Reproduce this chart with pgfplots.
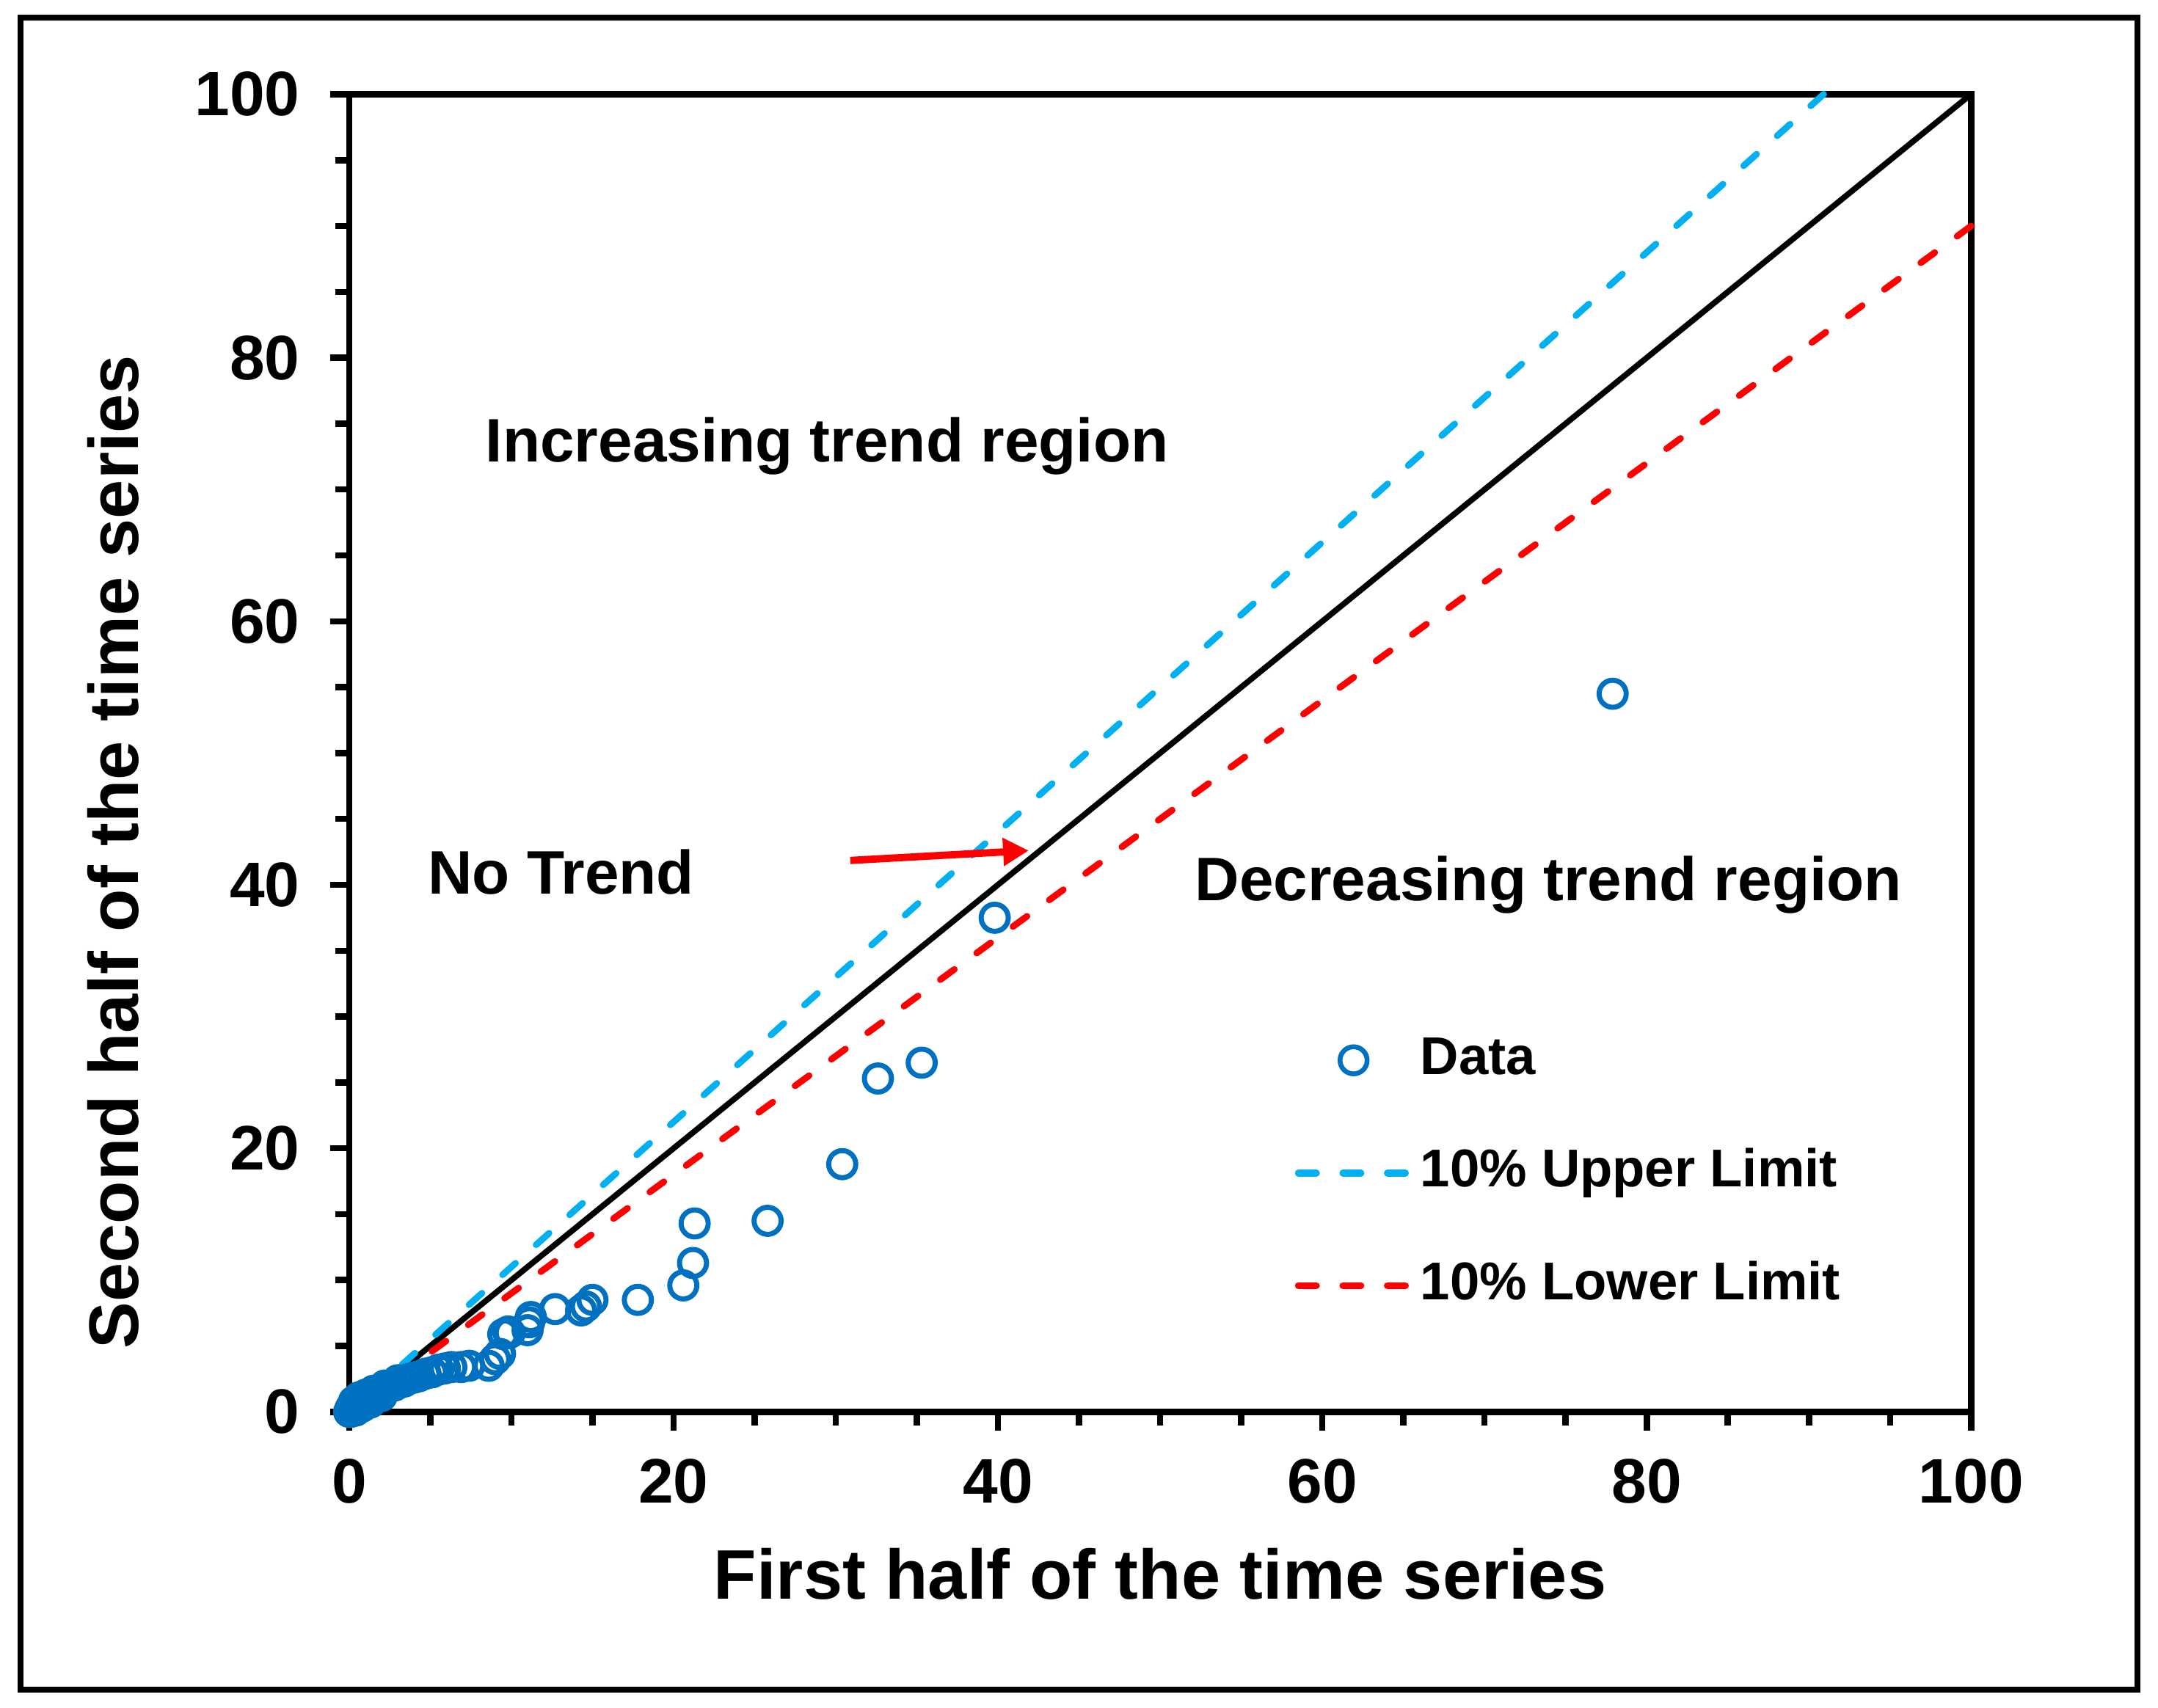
\documentclass[border=0pt]{standalone}
\usepackage{fontspec}
\setmainfont{Liberation Sans}
\usepackage{pgfplots}
\pgfplotsset{compat=1.18}
\usetikzlibrary{arrows.meta}

\definecolor{datablue}{HTML}{0070C0}
\definecolor{limcyan}{HTML}{00B0F0}
\definecolor{limred}{HTML}{FF0000}

\begin{document}
\begin{tikzpicture}[x=1mm,y=1mm]
% page size and outer frame
\path (0,0) rectangle (156.8,124.07);
\draw[line width=1.2pt] (1.5,1.27) rectangle (155.3,122.77);

\begin{axis}[
  at={(25.37mm,21.47mm)}, anchor=south west,
  scale only axis, width=117.85mm, height=95.75mm,
  xmin=0, xmax=100, ymin=0, ymax=100,
  xtick={0,20,...,100}, ytick={0,20,...,100},
  minor xtick={5,10,...,95}, minor ytick={5,10,...,95},
  tick pos=left, tick align=outside,
  major tick length=3.9pt, minor tick length=2.9pt,
  axis line style={line width=1.3pt},
  tick style={black, line width=1.3pt},
  /pgf/number format/assume math mode=true,
  tick label style={font=\bfseries\fontsize{13}{15}\selectfont},
  xticklabel style={yshift=-2.3pt},
  yticklabel style={xshift=-2.8pt},
  xlabel={First half of the time series},
  ylabel={Second half of the time series},
  label style={font=\bfseries\fontsize{14.5}{17}\selectfont},
  xlabel style={at={(axis description cs:0.5,-0.123)}, anchor=center},
  ylabel style={at={(axis description cs:-0.1455,0.425)}, anchor=center},
  clip=false,
  legend image code/.code={\draw[mark repeat=2,mark phase=2,#1] plot coordinates {(0pt,0pt) (11.4pt,0pt) (22.8pt,0pt)};},
  legend cell align=left,
  legend style={draw=none, fill=none, inner sep=0pt,
    at={(axis cs:58.25,29.25)}, anchor=north west,
    row sep=9.7pt, column sep=0pt,
    nodes={inner sep=1.7pt, text height=8pt, text depth=2.2pt},
    font=\bfseries\fontsize{11}{13}\selectfont},
]

% legend entries
\addlegendimage{only marks, mark=o, mark size=2.8pt, datablue, mark options={line width=1pt}}
\addlegendentry{Data}
\addlegendimage{limcyan, line width=1.45pt, line cap=round, dash pattern=on 3.7pt off 5.5pt}
\addlegendentry{10\% Upper Limit}
\addlegendimage{limred, line width=1.45pt, line cap=round, dash pattern=on 3.7pt off 5.5pt}
\addlegendentry{10\% Lower Limit}

% 1:1 line and +-10% limits (drawn from the top end so a dash touches the frame)
\addplot[black, line width=1.2pt, forget plot] coordinates {(0,0) (100,100)};
\addplot[limcyan, line width=1.35pt, line cap=round, dash pattern=on 3.6pt off 5.7pt, forget plot]
  coordinates {(90.909,100) (0,0)};
\addplot[limred, line width=1.35pt, line cap=round, dash pattern=on 3.6pt off 5.7pt, forget plot]
  coordinates {(100,90) (0,0)};

% data
\addplot[only marks, mark=o, mark size=2.8pt, datablue, mark options={line width=1.05pt}, forget plot]
  coordinates {
  (77.9,54.5) (39.8,37.5) (35.3,26.5) (32.6,25.3) (30.4,18.8)
  (25.8,14.5) (21.3,14.3) (21.2,11.3) (20.6,9.6) (17.8,8.5)
  (15.0,8.5) (14.6,8.0) (14.3,7.7) (12.7,7.8) (11.2,7.2)
  (11.1,6.8) (11.0,6.2) (9.9,6.0) (9.5,5.9) (9.8,6.1)
  (9.3,4.4) (9.0,4.0) (8.6,3.5) (7.4,3.5) (6.9,3.4)
  (6.3,3.4) (5.9,3.3) (5.5,3.2) (5.1,3.0) (4.7,2.9)
  (4.3,2.7) (4.0,2.6) (3.7,2.5) (3.4,2.3) (3.1,2.2)
  (2.8,2.0) (2.5,1.9) (2.2,1.7) (2.0,1.6) (1.8,1.5)
  (1.6,1.3) (1.4,1.2) (1.2,1.0) (1.0,0.9) (0.9,0.8)
  (0.8,0.8) (0.7,0.7) (0.6,0.6) (0.5,0.6) (0.4,0.5)
  (0.3,0.4) (0.2,0.2) (0.1,0.0) (0.0,0.0) (0.1,0.3)
  (0.3,0.8) (0.6,1.1) (1.0,1.3) (1.5,1.6) (2.2,2.0)
  (3.0,2.4) (0.4,0.1) (0.8,0.4) (1.3,0.7) (2.0,1.2)
  };

% annotations
\node[anchor=base west, inner sep=0pt, font=\bfseries\fontsize{12.7}{15}\selectfont]
  at (axis cs:8.36,72.1) {Increasing trend region};
\node[anchor=base west, inner sep=0pt, font=\bfseries\fontsize{12.7}{15}\selectfont]
  at (axis cs:4.8,39.3) {No Trend};
\node[anchor=base west, inner sep=0pt, font=\bfseries\fontsize{12.7}{15}\selectfont]
  at (axis cs:52.1,38.8) {Decreasing trend region};
\draw[limred, line width=1.5pt, -{Triangle[length=5.3pt,width=5.5pt]}]
  (axis cs:30.9,41.85) -- (axis cs:41.9,42.6);
\end{axis}
\end{tikzpicture}
\end{document}
